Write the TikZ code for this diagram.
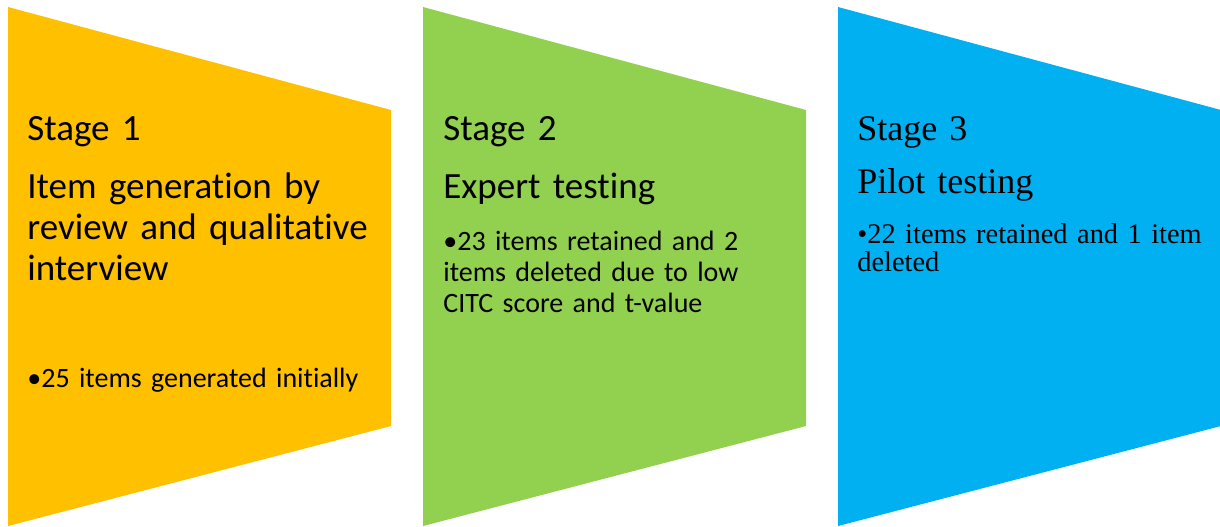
\documentclass[tikz,border=0pt]{standalone}
\usepackage{fontspec}
\setmainfont{Carlito}[Ligatures=NoCommon]
\newfontfamily\romanfont{Liberation Serif}
\usepackage{xcolor}
\definecolor{stageA}{HTML}{FFC000}
\definecolor{stageB}{HTML}{92D050}
\definecolor{stageC}{HTML}{00B0F0}

\tikzset{
	stagebox/.style={fill=#1, draw=none},
	headtext/.style={anchor=base west, inner sep=0pt, text width=185pt, align=left,
		font=\fontsize{18.5}{20.5}\selectfont},
	itemtext/.style={anchor=base west, inner sep=0pt, text width=185pt, align=left,
		font=\fontsize{14}{15.5}\selectfont},
}

\begin{document}
\begin{tikzpicture}[x=0.5pt,y=-0.5pt]
		\useasboundingbox (0,0) rectangle (1220,526);
		
		\fill[stagebox=stageA] (8,7) -- (391,110) -- (391,426) -- (8,526) -- cycle;
		\fill[stagebox=stageB] (423,7) -- (806,110) -- (806,426) -- (423,526) -- cycle;
		\fill[stagebox=stageC] (838,7) -- (1221,110) -- (1221,426) -- (838,526) -- cycle;
		
		\node[headtext] (s1) at (27,140) {Stage 1};
		\node[headtext] (t1) at (27,198) {Item generation by\newline review and qualitative\newline interview};
		\node[itemtext] (b1) at (27,387) {\textbullet 25 items generated initially};
		
		\node[headtext] (s2) at (443,140) {Stage 2};
		\node[headtext] (t2) at (443,198) {Expert testing};
		\node[itemtext] (b2) at (443,250) {\hangindent=6pt\hangafter=1
			\textbullet 23 items retained and 2\newline items deleted due to low\newline CITC score and t-value};
		
		\node[headtext, font=\romanfont\fontsize{18}{20}\selectfont] (s3) at (857,140) {Stage 3};
		\node[headtext, font=\romanfont\fontsize{18}{20}\selectfont] (t3) at (857,193) {Pilot testing};
		\node[itemtext, font=\romanfont\fontsize{14.2}{14}\selectfont] (b3) at (857,243) {\hangindent=5.5pt\hangafter=1
			\textbullet 22 items retained and 1 item\newline deleted};
	\end{tikzpicture}
\end{document}
